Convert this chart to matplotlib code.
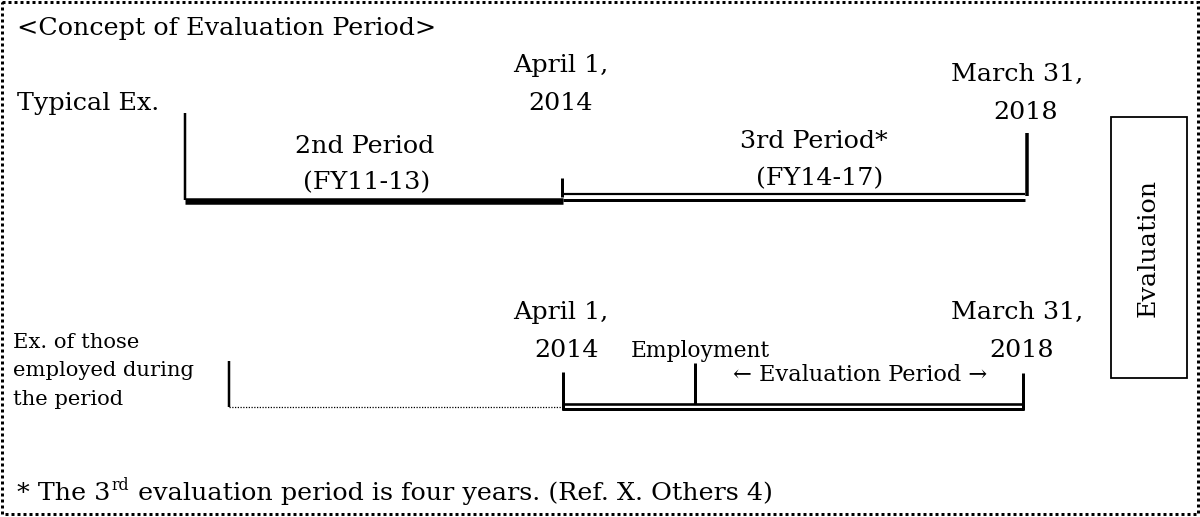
import matplotlib
matplotlib.use("Agg")
import matplotlib.pyplot as plt
from matplotlib.patches import Rectangle

# ---- content ----
title = "<Concept of Evaluation Period>"
row_labels = ["Typical Ex.", ["Ex. of those", "employed during", "the period"]]
date_start = ["April 1,", "2014"]
date_end = ["March 31,", "2018"]
period_labels = [["2nd Period", "(FY11-13)"], ["3rd Period*", "(FY14-17)"]]
employment_label = "Employment"
eval_period_label = "\u2190 Evaluation Period \u2192"
box_label = "Evaluation"
foot_parts = ["* The 3", "rd", " evaluation period is four years. (Ref. X. Others 4)"]

W, H = 1200, 517
fig = plt.figure(figsize=(W / 100, H / 100), dpi=100)
ax = fig.add_axes([0, 0, 1, 1])
ax.set_xlim(0, W)
ax.set_ylim(H, 0)
ax.axis("off")

FONT = "DejaVu Serif"
BIG = 18.3
SMALL = 15.2
PX = 0.72  # points per pixel


def line(xs, ys, w, **kw):
    ax.plot(xs, ys, color="black", lw=w * PX, solid_capstyle="butt", **kw)


def txt(x, y, s, size=BIG, ha="center", **kw):
    return ax.text(x, y, s, fontsize=size, family=FONT, ha=ha, va="baseline", color="black", **kw)


# border (dotted)
ax.add_patch(Rectangle((2, 2), 1195.5, 512, fill=False, edgecolor="black",
                       lw=3 * PX, linestyle=(0, (1, 1))))

# title and row labels
txt(17, 35, title, ha="left")
txt(17, 110, row_labels[0], ha="left")
for i, s in enumerate(row_labels[1]):
    txt(13, 348 + i * 28.5, s, size=SMALL, ha="left")

# top dates
txt(561, 72, date_start[0]); txt(561, 110, date_start[1])
txt(1017, 81, date_end[0]); txt(1026, 119, date_end[1])
# bottom dates
txt(561, 319, date_start[0]); txt(567, 357, date_start[1])
txt(1017, 319, date_end[0]); txt(1022, 357, date_end[1])

# period labels
txt(365, 153, period_labels[0][0]); txt(367, 189, period_labels[0][1])
txt(814, 148, period_labels[1][0]); txt(820, 185, period_labels[1][1])

txt(700, 357, employment_label, size=SMALL + 0.5)
txt(860, 381, eval_period_label, size=SMALL + 1)

# ---- top timeline ----
line([185, 185], [113, 200], 2.5)
line([185, 563], [200.5, 200.5], 6.5)
line([562, 562], [178, 197], 3)
line([563, 1025], [194, 194], 2.2)
line([563, 1025], [200, 200], 3)
line([1026.5, 1026.5], [133, 196], 3.5)

# ---- bottom timeline ----
line([228.5, 228.5], [361, 407], 2.5)
ax.plot([229, 561], [406.5, 406.5], color="black", lw=0.9, linestyle=(0, (1, 1.2)))
line([562.5, 562.5], [372, 410], 3)
line([694.5, 694.5], [363, 404], 3)
line([1022.5, 1022.5], [373, 410], 3)
line([562, 1024], [403.5, 403.5], 2.6)
line([562, 1024], [408.7, 408.7], 3)

# evaluation box
ax.add_patch(Rectangle((1111, 117), 76, 261, fill=False, edgecolor="black", lw=1.8 * PX))
ax.text(1148, 248, box_label, fontsize=BIG, family=FONT, rotation=90,
        ha="center", va="center", color="black")

# footnote with superscript
fig.canvas.draw()
r = fig.canvas.get_renderer()
x0 = 17
t1 = txt(x0, 500, foot_parts[0], ha="left")
bb = t1.get_window_extent(renderer=r)
inv = ax.transData.inverted()
x1 = inv.transform((bb.x1, bb.y0))[0]
t2 = txt(x1 + 1, 490, foot_parts[1], size=BIG * 0.62, ha="left")
bb2 = t2.get_window_extent(renderer=r)
x2 = inv.transform((bb2.x1, bb2.y0))[0]
txt(x2 + 1, 500, foot_parts[2], ha="left")

fig.savefig("out.png", dpi=100)
